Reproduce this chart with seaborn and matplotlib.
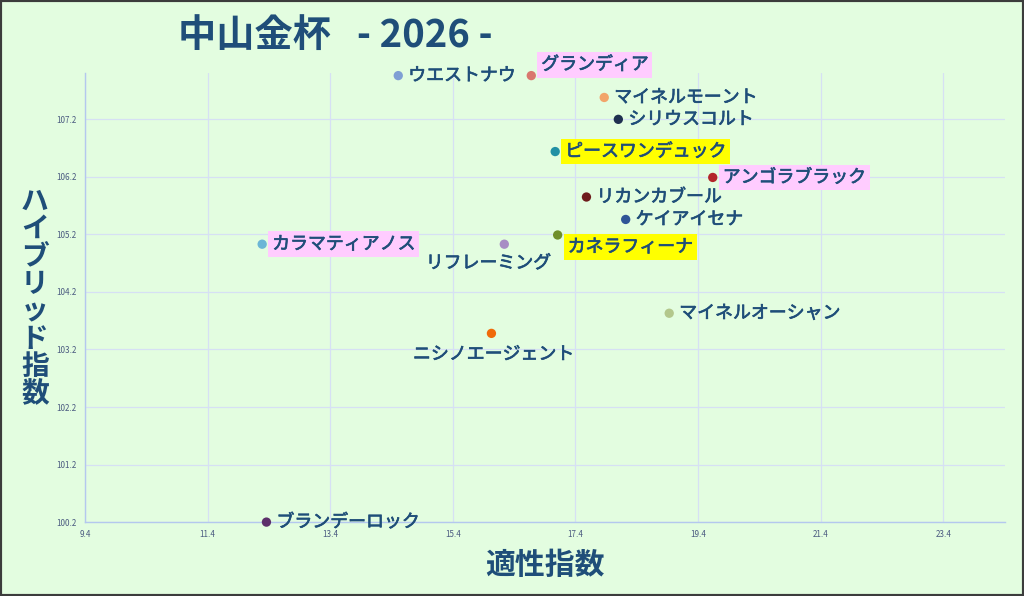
import numpy as np
import pandas as pd
import seaborn as sns
import matplotlib.pyplot as plt
import matplotlib.patheffects as pe

# horses and their indices
names = ["ウエストナウ", "グランディア", "マイネルモーント", "シリウスコルト",
         "ピースワンデュック", "アンゴラブラック", "リカンカブール", "ケイアイセナ",
         "カネラフィーナ", "リフレーミング", "カラマティアノス", "マイネルオーシャン",
         "ニシノエージェント", "ブランデーロック"]
tekisei = [14.51, 16.68, 17.87, 18.10, 17.07, 19.64, 17.58, 18.22,
           17.11, 16.24, 12.29, 18.93, 16.03, 12.36]
hybrid = [107.96, 107.96, 107.58, 107.20, 106.64, 106.19, 105.85, 105.46,
          105.19, 105.03, 105.03, 103.83, 103.48, 100.20]
colors = ["#7f9fd4", "#d9776e", "#f2a46a", "#1f3050", "#2190a4", "#b3262a",
          "#6e1c1c", "#2f5597", "#6f8f2a", "#a88cc4", "#6cb6d6", "#b3c78c",
          "#f06a0a", "#5c2f6a"]
# label highlight: None, pink, yellow
highlight = [None, "#ffccff", None, None, "#ffff00", "#ffccff", None, None,
             "#ffff00", None, "#ffccff", None, None, None]
# label placement: r = right, ru = right/up, rd = right/down, bl / b = below
placement = ["r", "ru", "r", "r", "r", "r", "r", "r", "rd", "bl", "r", "r", "b", "r"]

xticks = np.arange(9.4, 23.5, 2.0)
yticks = np.arange(100.2, 107.3, 1.0)

df = pd.DataFrame({"name": names, "x": tekisei, "y": hybrid})

sns.set_theme(style="white")
plt.rcParams["font.family"] = ["Noto Sans CJK JP", "DejaVu Sans"]

bg = "#e3fde0"
txt = "#1f4e79"

fig = plt.figure(figsize=(10.24, 5.96), dpi=100, facecolor=bg)
ax = fig.add_axes([0.083, 0.124, 0.898, 0.753])
ax.set_facecolor(bg)

sns.scatterplot(data=df, x="x", y="y", hue="name", palette=dict(zip(names, colors)),
                s=45, edgecolor="none", legend=False, ax=ax, zorder=3, clip_on=False)

ax.set_xlim(9.4, 24.4)
ax.set_ylim(100.2, 108.0)
ax.set_xticks(xticks)
ax.set_yticks(yticks)
ax.set_xticklabels([f"{v:.1f}" for v in xticks])
ax.set_yticklabels([f"{v:.1f}" for v in yticks])
ax.tick_params(axis="both", length=0, labelsize=5.8, labelcolor="#4a5a80", pad=6)
ax.grid(True, color="#d6e0f4", linewidth=0.9)
for side in ["top", "right"]:
    ax.spines[side].set_visible(False)
for side in ["left", "bottom"]:
    ax.spines[side].set_color("#b4c8ee")
    ax.spines[side].set_linewidth(1.0)
ax.set_xlabel("")
ax.set_ylabel("")

offsets = {"r": (10, 0), "ru": (10, 11), "rd": (10, -12)}
stroke = [pe.withStroke(linewidth=0.5, foreground=txt)]
for n, xv, yv, hl, pl in zip(names, tekisei, hybrid, highlight, placement):
    if pl in offsets:
        off, ha = offsets[pl], "left"
    elif pl == "bl":
        off, ha = (-16, -19), "center"
    else:
        off, ha = (2, -21), "center"
    bbox = None
    if hl:
        bbox = dict(boxstyle="square,pad=0.22", facecolor=hl, edgecolor="none")
    ax.annotate(n, (xv, yv), xytext=off, textcoords="offset pixels",
                ha=ha, va="center", fontsize=12.9, color=txt,
                bbox=bbox, zorder=4, annotation_clip=False, path_effects=stroke)

fig.text(0.174, 0.941, "中山金杯   - 2026 -", fontsize=27.5, fontweight="bold",
         color=txt, ha="left", va="center")
fig.text(0.532, 0.052, "適性指数", fontsize=21.5, fontweight="bold",
         color=txt, ha="center", va="center")
fig.text(0.034, 0.50, "\n".join("ハイブリッド指数"), fontsize=20, fontweight="bold",
         color=txt, ha="center", va="center", linespacing=0.98)

# dark frame around the whole picture
fig.patches.append(plt.Rectangle((0, 0), 1, 1, transform=fig.transFigure,
                                 fill=False, edgecolor="#3c3c3c", linewidth=3))

fig.savefig("out.png", dpi=100, facecolor=bg)
